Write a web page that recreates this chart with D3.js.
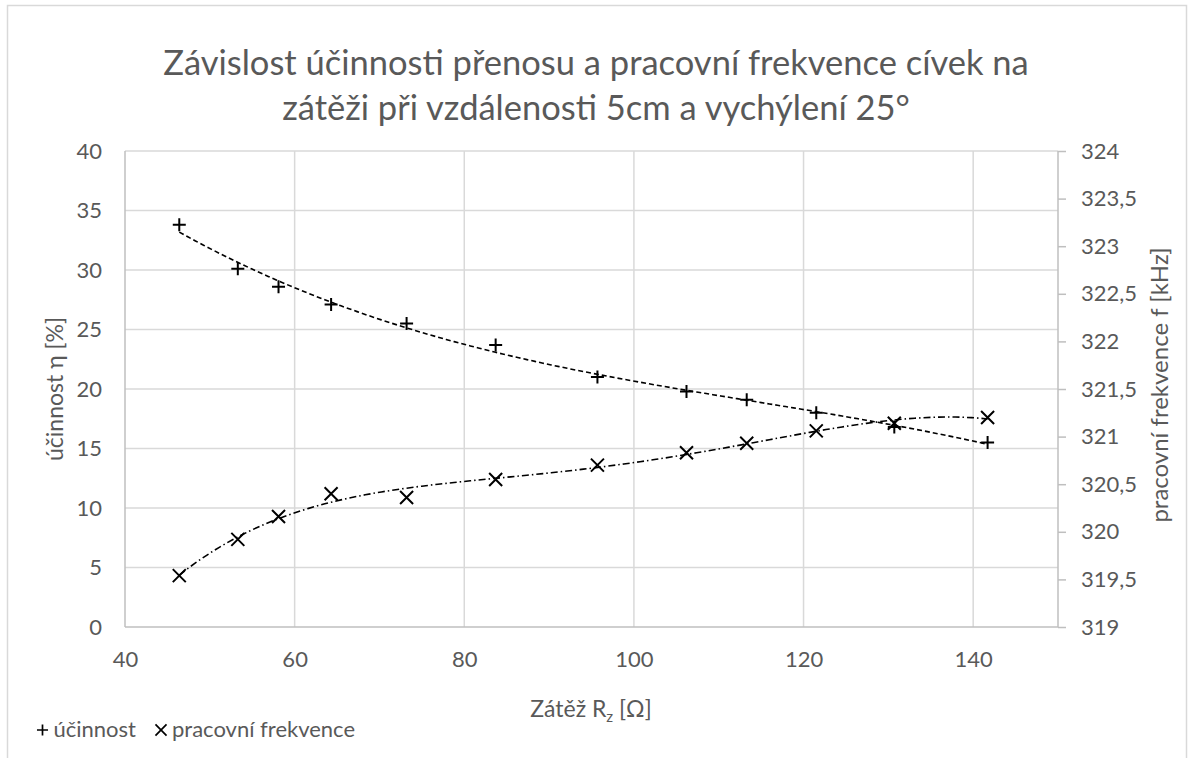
<!DOCTYPE html>
<html>
<head>
<meta charset="utf-8">
<script src="https://cdn.jsdelivr.net/npm/d3@7"></script>
<style>
  body { margin: 0; background: #fff; }
  text { font-family: Lato, "Open Sans", sans-serif; fill: #595959; }
</style>
</head>
<body>
<svg id="chart" width="1191" height="758"></svg>
<script>
// hodnoty
var zatez = [46.4, 53.3, 58.1, 64.3, 73.2, 83.7, 95.7, 106.2, 113.3, 121.5, 130.7, 141.7];
var ucinnost = [33.8, 30.1, 28.6, 27.1, 25.5, 23.7, 21.0, 19.8, 19.1, 18.0, 16.8, 15.5];
var frekvence = [319.54, 319.92, 320.16, 320.40, 320.36, 320.55, 320.70, 320.83, 320.93, 321.06, 321.14, 321.20];

var xTicks = [40, 60, 80, 100, 120, 140];
var yLeftTicks = [0, 5, 10, 15, 20, 25, 30, 35, 40];
var yRightTicks = [319, 319.5, 320, 320.5, 321, 321.5, 322, 322.5, 323, 323.5, 324];

var titleLines = ["Závislost účinnosti přenosu a pracovní frekvence cívek na",
                  "zátěži při vzdálenosti 5cm a vychýlení 25°"];

let svg = d3.select("#chart");

let x = d3.scaleLinear().domain([40, 150]).range([125, 1058]);
let yL = d3.scaleLinear().domain([0, 40]).range([627, 151]);
let yR = d3.scaleLinear().domain([319, 324]).range([627, 151]);

// ramecek grafu
svg.append("rect")
    .attr("x", 7.5).attr("y", 5.5)
    .attr("width", 1179).attr("height", 770)
    .attr("fill", "none")
    .attr("stroke", "#d9d9d9")
    .attr("stroke-width", 1.5);

// mrizka
svg.append("g").selectAll("line")
    .data(yLeftTicks.slice(1))
    .enter().append("line")
    .attr("x1", 125).attr("x2", 1058)
    .attr("y1", d => yL(d)).attr("y2", d => yL(d))
    .attr("stroke", "#d9d9d9").attr("stroke-width", 1.5);

svg.append("g").selectAll("line")
    .data(xTicks.slice(1))
    .enter().append("line")
    .attr("x1", d => x(d)).attr("x2", d => x(d))
    .attr("y1", 151).attr("y2", 627)
    .attr("stroke", "#d9d9d9").attr("stroke-width", 1.5);

// osy
let xAxis = svg.append("g")
    .attr("transform", "translate(0,627)")
    .call(d3.axisBottom(x).tickValues(xTicks).tickSize(0).tickPadding(24));
let yAxisL = svg.append("g")
    .attr("transform", "translate(125,0)")
    .call(d3.axisLeft(yL).tickValues(yLeftTicks).tickSize(0).tickPadding(23));
let yAxisR = svg.append("g")
    .attr("transform", "translate(1058,0)")
    .call(d3.axisRight(yR).tickValues(yRightTicks).tickSize(8).tickPadding(15)
        .tickFormat(d => String(d).replace(".", ",")));

[xAxis, yAxisL, yAxisR].forEach(a => {
    a.select(".domain").attr("stroke", "#bfbfbf").attr("stroke-width", 1.5);
    a.selectAll(".tick line").attr("stroke", "#bfbfbf").attr("stroke-width", 1.5);
    a.selectAll("text")
        .style("font-family", "Lato, 'Open Sans', sans-serif")
        .style("font-size", "22px")
        .attr("fill", "#595959");
});
xAxis.select(".domain").attr("d", "M125,0H1058");
yAxisL.select(".domain").attr("d", "M0,151V627");
yAxisR.select(".domain").attr("d", "M0,151V627");

// nadpis
svg.append("g").selectAll("text")
    .data(titleLines)
    .enter().append("text")
    .attr("x", 596)
    .attr("y", (d, i) => 75 + i * 45)
    .attr("text-anchor", "middle")
    .style("font-size", "34.5px")
    .text(d => d);

// popisky os
let xt = svg.append("text")
    .attr("x", 591).attr("y", 717)
    .attr("text-anchor", "middle")
    .style("font-size", "23px");
xt.append("tspan").text("Zátěž R");
xt.append("tspan").attr("dy", 5).style("font-size", "15px").text("z");
xt.append("tspan").attr("dy", -5).text(" [Ω]");

svg.append("text")
    .attr("transform", "translate(63,389) rotate(-90)")
    .attr("text-anchor", "middle")
    .style("font-size", "23px")
    .text("účinnost η [%]");

svg.append("text")
    .attr("transform", "translate(1168,385) rotate(-90)")
    .attr("text-anchor", "middle")
    .style("font-size", "24px")
    .text("pracovní frekvence f [kHz]");

// polynomialni spojnice trendu (nejmensi ctverce)
function polyfit(xs, ys, deg){
    let mx = d3.mean(xs), sx = d3.deviation(xs);
    let u = xs.map(v => (v - mx) / sx);
    let n = deg + 1;
    let A = [];
    for (let i = 0; i < n; i++){
        A.push([]);
        for (let j = 0; j < n; j++) A[i].push(d3.sum(u, v => Math.pow(v, i + j)));
        A[i].push(d3.sum(u, (v, k) => Math.pow(v, i) * ys[k]));
    }
    for (let c = 0; c < n; c++){
        let p = c;
        for (let r = c + 1; r < n; r++) if (Math.abs(A[r][c]) > Math.abs(A[p][c])) p = r;
        [A[c], A[p]] = [A[p], A[c]];
        for (let r = 0; r < n; r++){
            if (r === c) continue;
            let f = A[r][c] / A[c][c];
            for (let k = c; k <= n; k++) A[r][k] -= f * A[c][k];
        }
    }
    let coef = A.map((row, i) => row[n] / row[i]);
    return v => {
        let t = (v - mx) / sx;
        return d3.sum(coef, (c, i) => c * Math.pow(t, i));
    };
}

function trendPoints(xs, ys, deg){
    let f = polyfit(xs, ys, deg);
    let x0 = d3.min(xs), x1 = d3.max(xs);
    return d3.range(0, 101).map(i => {
        let v = x0 + (x1 - x0) * i / 100;
        return [v, f(v)];
    });
}

let lineL = d3.line().x(d => x(d[0])).y(d => yL(d[1]));
let lineR = d3.line().x(d => x(d[0])).y(d => yR(d[1]));

svg.append("path")
    .attr("d", lineL(trendPoints(zatez, ucinnost, 3)))
    .attr("fill", "none")
    .attr("stroke", "#000")
    .attr("stroke-width", 1.6)
    .attr("stroke-dasharray", "5,3");

svg.append("path")
    .attr("d", lineR(trendPoints(zatez, frekvence, 4)))
    .attr("fill", "none")
    .attr("stroke", "#000")
    .attr("stroke-width", 1.6)
    .attr("stroke-dasharray", "7,3,1.5,3");

// body
let plusPath = "M-6.5,0H6.5M0,-6.5V6.5";
let crossPath = "M-6.5,-6.5L6.5,6.5M-6.5,6.5L6.5,-6.5";

svg.append("g").selectAll("path")
    .data(zatez)
    .enter().append("path")
    .attr("d", plusPath)
    .attr("transform", (d, i) => "translate(" + x(d) + "," + yL(ucinnost[i]) + ")")
    .attr("stroke", "#000").attr("stroke-width", 2);

svg.append("g").selectAll("path")
    .data(zatez)
    .enter().append("path")
    .attr("d", crossPath)
    .attr("transform", (d, i) => "translate(" + x(d) + "," + yR(frekvence[i]) + ")")
    .attr("stroke", "#000").attr("stroke-width", 2);

// legenda
let legend = [
    {label: "účinnost", sym: plusPath, x: 42.5},
    {label: "pracovní frekvence", sym: crossPath, x: 161}
];
let lg = svg.append("g").selectAll("g")
    .data(legend)
    .enter().append("g")
    .attr("transform", d => "translate(" + d.x + ",730)");
lg.append("path")
    .attr("d", d => d.sym)
    .attr("transform", "scale(0.85)")
    .attr("stroke", "#000").attr("stroke-width", 2);
lg.append("text")
    .attr("x", 11).attr("y", 7)
    .style("font-size", "22px")
    .text(d => d.label);
</script>
</body>
</html>
